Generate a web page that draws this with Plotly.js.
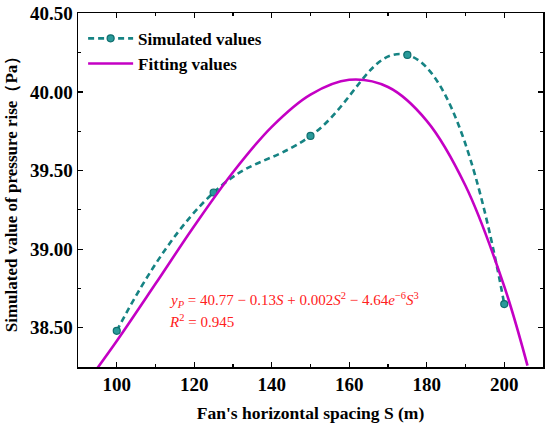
<!DOCTYPE html>
<html>
<head>
<meta charset="utf-8">
<script src="https://cdn.plot.ly/plotly-3.0.1.min.js"></script>
<style>html,body{margin:0;padding:0;background:#fff;}#chart{width:550px;height:427px;}</style>
</head>
<body>
<div id="chart"></div>
<script>
// Simulated values
const simS = [100, 125, 150, 175, 200];
const simY = [38.48, 39.36, 39.72, 40.235, 38.65];
// Fitting curve values
const fitS = [95, 100, 110, 120, 130, 140, 150, 160, 170, 180, 190, 200, 206];
const fitY = [38.243, 38.415, 38.779, 39.147, 39.489, 39.778, 39.983, 40.077, 40.031, 39.816, 39.403, 38.763, 38.259];
const xTicks = [100, 120, 140, 160, 180, 200];
const yTicks = [38.5, 39.0, 39.5, 40.0, 40.5];
const yTickText = ["38.50", "39.00", "39.50", "40.00", "40.50"];

const serif = "'Liberation Serif', 'Times New Roman', 'DejaVu Serif', serif";
const teal = "#168383";
const magenta = "#c400c4";

const traces = [
  {
    x: simS, y: simY, name: "Simulated values", type: "scatter", mode: "lines+markers",
    line: {color: teal, width: 2.6, dash: "6px,4px", shape: "spline", smoothing: 1.3},
    marker: {color: "#2a9a9a", size: 7, line: {color: "#0f6e6e", width: 1.2}}
  },
  {
    x: fitS, y: fitY, name: "Fitting values", type: "scatter", mode: "lines",
    line: {color: magenta, width: 2.6, shape: "spline"}
  }
];

const axisCommon = {
  showline: true, linecolor: "#000", linewidth: 1.5, mirror: "allticks",
  ticks: "inside", ticklen: 5, tickwidth: 1.2, tickcolor: "#000",
  showgrid: false, zeroline: false,
  tickfont: {family: serif, size: 19, color: "#000", weight: "bold"}
};

const layout = {
  width: 550, height: 427,
  margin: {l: 78, r: 7, t: 13, b: 60},
  paper_bgcolor: "#fff", plot_bgcolor: "#fff",
  font: {family: serif},
  showlegend: true,
  legend: {
    x: 0.011, y: 0.978, xanchor: "left", yanchor: "top",
    bgcolor: "rgba(0,0,0,0)", borderwidth: 0, itemwidth: 45,
    font: {family: serif, size: 17, color: "#000", weight: "bold"},
    tracegroupgap: 0
  },
  xaxis: Object.assign({}, axisCommon, {
    range: [90, 210], tickvals: xTicks,
    minor: {dtick: 10, tick0: 0, ticks: "inside", ticklen: 3, tickwidth: 1.2, tickcolor: "#000"},
    title: {text: "Fan's horizontal spacing S (m)", standoff: 12,
      font: {family: serif, size: 17.5, color: "#000", weight: "bold"}}
  }),
  yaxis: Object.assign({}, axisCommon, {
    range: [38.25, 40.502], tickvals: yTicks, ticktext: yTickText,
    minor: {dtick: 0.25, tick0: 38.5, ticks: "inside", ticklen: 3, tickwidth: 1.2, tickcolor: "#000"},
    title: {text: "Simulated value of pressure rise（Pa）", standoff: 8,
      font: {family: serif, size: 17, color: "#000", weight: "bold"}}
  }),
  annotations: [
    {
      xref: "x", yref: "y", x: 113, y: 38.675, xanchor: "left", yanchor: "middle", showarrow: false,
      text: "<i>y</i><sub><i>P</i></sub> = 40.77 − 0.13<i>S</i> + 0.002<i>S</i><sup>2</sup> − 4.64<i>e</i><sup>−6</sup><i>S</i><sup>3</sup>",
      font: {family: serif, size: 15, color: "#ff2020"}
    },
    {
      xref: "x", yref: "y", x: 113, y: 38.54, xanchor: "left", yanchor: "middle", showarrow: false,
      text: "<i>R</i><sup>2</sup> = 0.945",
      font: {family: serif, size: 15, color: "#ff2020"}
    }
  ]
};

Plotly.newPlot("chart", traces, layout, {displayModeBar: false, staticPlot: true});
</script>
</body>
</html>
